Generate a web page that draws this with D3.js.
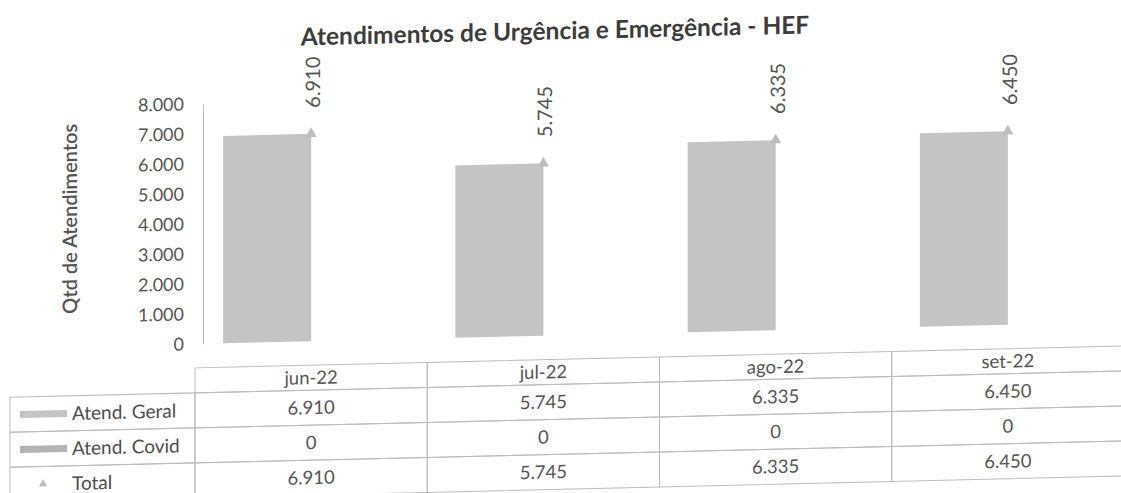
<!DOCTYPE html>
<html>
<head>
<meta charset="utf-8">
<script src="https://cdn.jsdelivr.net/npm/d3@7"></script>
<style>
  body { margin: 0; background: #fff; }
  svg { display: block; font-family: Lato, "Open Sans", sans-serif; }
</style>
</head>
<body>
<div id="chart"></div>
<script>
const months = ["jun-22", "jul-22", "ago-22", "set-22"];
const geralValues = [6910, 5745, 6335, 6450];
const covidValues = [0, 0, 0, 0];
const totalValues = [6910, 5745, 6335, 6450];
const seriesNames = ["Atend. Geral", "Atend. Covid", "Total"];
const yTicks = [0, 1000, 2000, 3000, 4000, 5000, 6000, 7000, 8000];
const chartTitle = "Atendimentos de Urgência e Emergência - HEF";
const yTitle = "Qtd de Atendimentos";

const width = 1121;
const height = 493;

const fmt = d3.formatLocale({ decimal: ",", thousands: ".", grouping: [3], currency: ["R$", ""] }).format(",d");

const data = months.map((m, i) => ({
    month: m,
    geral: geralValues[i],
    covid: covidValues[i],
    total: totalValues[i]
}));

const svg = d3.select("#chart").append("svg")
    .attr("width", width)
    .attr("height", height);

// the scan is slightly tilted, right side higher
const skew = 1.35;
const g = svg.append("g")
    .attr("transform", `translate(0,${Math.tan(skew * Math.PI / 180) * 275}) skewY(${-skew})`);

const x = d3.scaleBand()
    .domain(months)
    .range([195, 1124]);

const xSub = d3.scaleBand()
    .domain(["geral", "covid"])
    .range([0, x.bandwidth()])
    .paddingInner(0)
    .paddingOuter(0.32);

const y = d3.scaleLinear()
    .domain([0, 8000])
    .range([342, 102]);

const barColor = "#c4c4c4";
const covidColor = "#b3b3b3";
const markColor = "#bdbdbd";
const lineColor = "#bcbcbc";
const textColor = "#555";

// title
g.append("text")
    .attr("x", 555)
    .attr("y", 46)
    .attr("text-anchor", "middle")
    .style("font-size", "24.5px")
    .style("font-weight", "bold")
    .style("fill", "#3c3c3c")
    .text(chartTitle);

// y axis
const yAxis = g.append("g")
    .attr("transform", "translate(203,0)")
    .call(d3.axisLeft(y).tickValues(yTicks).tickSize(0).tickPadding(19).tickFormat(fmt));
yAxis.select(".domain").attr("stroke", lineColor);
yAxis.selectAll("text")
    .style("font-size", "18px")
    .style("font-family", "Lato, sans-serif")
    .style("fill", textColor);

g.append("text")
    .attr("transform", `translate(70,${(y(0) + y(8000)) / 2 - 8}) rotate(-90)`)
    .attr("text-anchor", "middle")
    .attr("dy", "0.35em")
    .style("font-size", "20px")
    .style("font-weight", "600")
    .style("fill", textColor)
    .text(yTitle);

// bars
g.append("g")
    .selectAll("rect.geral")
    .data(data)
    .enter()
    .append("rect")
    .attr("class", "geral")
    .attr("x", d => x(d.month) + xSub("geral"))
    .attr("width", xSub.bandwidth())
    .attr("y", d => y(d.geral))
    .attr("height", d => y(0) - y(d.geral))
    .attr("fill", barColor);

g.append("g")
    .selectAll("rect.covid")
    .data(data)
    .enter()
    .append("rect")
    .attr("class", "covid")
    .attr("x", d => x(d.month) + xSub("covid"))
    .attr("width", xSub.bandwidth())
    .attr("y", d => y(d.covid))
    .attr("height", d => y(0) - y(d.covid))
    .attr("fill", covidColor);

// total markers + labels
const tri = d3.symbol().type(d3.symbolTriangle).size(55);
g.append("g")
    .selectAll("path")
    .data(data)
    .enter()
    .append("path")
    .attr("d", tri)
    .attr("transform", d => `translate(${x(d.month) + x.bandwidth() / 2},${y(d.total)})`)
    .attr("fill", markColor);

g.append("g")
    .selectAll("text")
    .data(data)
    .enter()
    .append("text")
    .attr("transform", d => `translate(${x(d.month) + x.bandwidth() / 2 + 2},${y(d.total) - 26}) rotate(-90)`)
    .attr("dy", "0.35em")
    .attr("text-anchor", "start")
    .style("font-size", "20px")
    .style("fill", textColor)
    .text(d => fmt(d.total));

// data table
const headerTop = 366;
const headerH = 25;
const rowH = 35;
const labelLeft = 10;

const rows = [
    { name: seriesNames[0], key: "geral" },
    { name: seriesNames[1], key: "covid" },
    { name: seriesNames[2], key: "total" }
];

const table = g.append("g").attr("fill", "none").attr("stroke", lineColor).attr("stroke-width", 1);

months.forEach(m => {
    table.append("rect")
        .attr("x", x(m))
        .attr("y", headerTop)
        .attr("width", x.bandwidth())
        .attr("height", headerH);
    rows.forEach((r, i) => {
        table.append("rect")
            .attr("x", x(m))
            .attr("y", headerTop + headerH + i * rowH)
            .attr("width", x.bandwidth())
            .attr("height", rowH);
    });
});
rows.forEach((r, i) => {
    table.append("rect")
        .attr("x", labelLeft)
        .attr("y", headerTop + headerH + i * rowH)
        .attr("width", x(months[0]) - labelLeft)
        .attr("height", rowH);
});

g.append("g")
    .selectAll("text")
    .data(months)
    .enter()
    .append("text")
    .attr("x", d => x(d) + x.bandwidth() / 2)
    .attr("y", headerTop + headerH / 2)
    .attr("dy", "0.35em")
    .attr("text-anchor", "middle")
    .style("font-size", "18.5px")
    .style("fill", textColor)
    .text(d => d);

rows.forEach((r, i) => {
    const cy = headerTop + headerH + i * rowH + rowH / 2;
    g.append("g")
        .selectAll("text")
        .data(data)
        .enter()
        .append("text")
        .attr("x", d => x(d.month) + x.bandwidth() / 2)
        .attr("y", cy)
        .attr("dy", "0.35em")
        .attr("text-anchor", "middle")
        .style("font-size", "18.5px")
        .style("fill", textColor)
        .text(d => fmt(d[r.key]));

    g.append("text")
        .attr("x", 72)
        .attr("y", cy)
        .attr("dy", "0.35em")
        .style("font-size", "19px")
        .style("fill", "#4d4d4d")
        .text(r.name);

    if (r.key === "total") {
        g.append("path")
            .attr("d", d3.symbol().type(d3.symbolTriangle).size(30))
            .attr("transform", `translate(43,${cy})`)
            .attr("fill", markColor);
    } else {
        g.append("rect")
            .attr("x", 20)
            .attr("y", cy - 3.5)
            .attr("width", 47)
            .attr("height", 7)
            .attr("fill", r.key === "geral" ? barColor : covidColor);
    }
});
</script>
</body>
</html>
